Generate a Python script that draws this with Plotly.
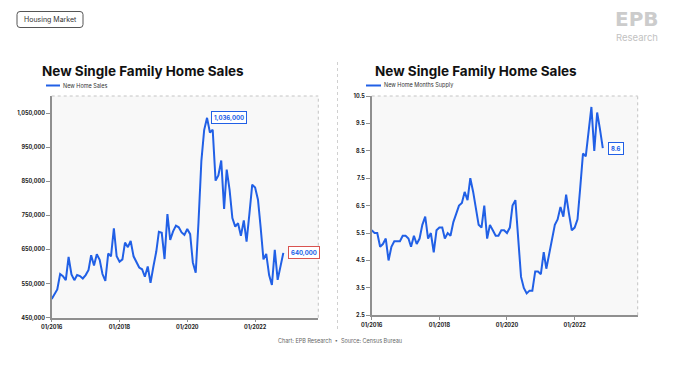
import plotly.graph_objects as go
import pandas as pd

# ---------------- data ----------------
months = pd.date_range("2016-01-01", periods=83, freq="MS")

new_home_sales = [
    505000, 520000, 533000, 578000, 572000, 560000, 628000, 577000, 560000, 575000, 572000, 565000,
    575000, 590000, 633000, 603000, 636000, 620000, 578000, 558000, 638000, 630000, 712000, 630000,
    614000, 621000, 670000, 657000, 675000, 630000, 612000, 597000, 592000, 570000, 600000, 552000,
    600000, 644000, 702000, 699000, 622000, 754000, 678000, 703000, 720000, 715000, 700000, 693000,
    710000, 695000, 612000, 582000, 730000, 910000, 1000000, 1036000, 993000, 1001000, 852000, 867000,
    911000, 769000, 884000, 825000, 742000, 717000, 727000, 690000, 735000, 673000, 756000, 840000,
    832000, 796000, 717000, 621000, 637000, 575000, 546000, 649000, 561000, 600000, 640000,
]

months_supply = [
    5.6, 5.5, 5.5, 5.0, 5.1, 5.3, 4.5, 5.0, 5.2, 5.2, 5.2, 5.4,
    5.4, 5.3, 5.0, 5.4, 5.1, 5.3, 5.8, 6.1, 5.3, 5.5, 4.8, 5.6,
    5.7, 5.7, 5.3, 5.5, 5.4, 5.9, 6.2, 6.5, 6.6, 7.0, 6.7, 7.5,
    7.0, 6.4, 5.8, 5.7, 6.5, 5.3, 5.8, 5.6, 5.4, 5.4, 5.6, 5.6,
    5.5, 5.7, 6.5, 6.7, 5.3, 3.9, 3.5, 3.3, 3.4, 3.4, 4.1, 4.1,
    4.0, 4.8, 4.2, 4.7, 5.3, 5.8, 6.0, 6.45, 6.1, 6.9, 6.2, 5.6,
    5.7, 6.0, 7.1, 8.4, 8.3, 9.3, 10.1, 8.5, 9.9, 9.3, 8.6,
]

x_tick_vals = ["2016-01-01", "2018-01-01", "2020-01-01", "2022-01-01"]
x_tick_text = ["01/2016", "01/2018", "01/2020", "01/2022"]
sales_ticks = [450000, 550000, 650000, 750000, 850000, 950000, 1050000]
supply_ticks = [2.5, 3.5, 4.5, 5.5, 6.5, 7.5, 8.5, 9.5, 10.5]

title_text = "New Single Family Home Sales"
sales_name = "New Home Sales"
supply_name = "New Home Months Supply"

# ---------------- styling ----------------
W, H = 679, 383
OFF = 8  # page body margin offset
BLUE = "#2160e6"
RED = "#d9534f"
AXIS = "#8f8f8f"
FONT = "Inter"


def px(x):
    return (x - OFF) / W


def py(y):
    return 1 - (y - OFF) / H


fig = go.Figure()
fig.add_trace(go.Scatter(x=months, y=new_home_sales, mode="lines", name=sales_name,
                         line=dict(color=BLUE, width=2), xaxis="x", yaxis="y", showlegend=False))
fig.add_trace(go.Scatter(x=months, y=months_supply, mode="lines", name=supply_name,
                         line=dict(color=BLUE, width=2), xaxis="x2", yaxis="y2", showlegend=False))

tickfont = dict(family=FONT, size=5.5, color="#222", weight="bold")
common_x = dict(type="date", range=["2016-01-01", "2023-11-13"], tickvals=x_tick_vals, ticktext=x_tick_text,
                ticks="outside", ticklen=3, tickcolor=AXIS, showline=True, linecolor=AXIS, linewidth=1.5,
                showgrid=False, zeroline=False, tickfont=tickfont, automargin=False)
common_y = dict(ticks="outside", ticklen=4, tickcolor=AXIS, showline=True, linecolor=AXIS, linewidth=1.5,
                showgrid=False, zeroline=False, tickfont=tickfont, automargin=False)

L_x0, L_x1, L_y0, L_y1 = 51.7, 318.3, 96, 317.7
R_x0, R_x1, R_y0, R_y1 = 371.7, 637.7, 96, 315.3

fig.update_layout(
    template="none",
    width=W, height=H, margin=dict(l=0, r=0, t=0, b=0, pad=0), autosize=False,
    paper_bgcolor="white", plot_bgcolor="#f8f8f8",
    font=dict(family=FONT),
    xaxis=dict(domain=[px(L_x0), px(L_x1)], anchor="y", **common_x),
    yaxis=dict(domain=[py(L_y1), py(L_y0)], anchor="x", range=[450000, 1100000],
               tickvals=sales_ticks, tickformat=",", **common_y),
    xaxis2=dict(domain=[px(R_x0), px(R_x1)], anchor="y2", **common_x),
    yaxis2=dict(domain=[py(R_y1), py(R_y0)], anchor="x2", range=[2.5, 10.5],
                tickvals=supply_ticks, tickformat=".1f", **common_y),
)

shapes = []
# dotted borders top/right of plot areas
for xr, yr in (("x domain", "y domain"), ("x2 domain", "y2 domain")):
    shapes.append(dict(type="line", xref=xr, yref=yr, x0=0, x1=1, y0=1, y1=1,
                       line=dict(color="#c4c4c4", width=1, dash="dot")))
    shapes.append(dict(type="line", xref=xr, yref=yr, x0=1, x1=1, y0=0, y1=1,
                       line=dict(color="#c4c4c4", width=1, dash="dot")))
# separator
shapes.append(dict(type="line", xref="paper", yref="paper", x0=px(337.5), x1=px(337.5), y0=py(62), y1=py(330),
                   line=dict(color="#d0d0d0", width=1, dash="dot")))
# legend lines
shapes.append(dict(type="line", xref="paper", yref="paper", x0=px(46), x1=px(60), y0=py(85.5), y1=py(85.5),
                   line=dict(color=BLUE, width=2)))
shapes.append(dict(type="line", xref="paper", yref="paper", x0=px(366), x1=px(381), y0=py(85.5), y1=py(85.5),
                   line=dict(color=BLUE, width=2)))
# header box rounded
x0, x1, y0, y1, r = 17, 83, 11.5, 27.5, 3
path = (f"M {px(x0 + r)},{py(y0)} L {px(x1 - r)},{py(y0)} Q {px(x1)},{py(y0)} {px(x1)},{py(y0 + r)} "
        f"L {px(x1)},{py(y1 - r)} Q {px(x1)},{py(y1)} {px(x1 - r)},{py(y1)} "
        f"L {px(x0 + r)},{py(y1)} Q {px(x0)},{py(y1)} {px(x0)},{py(y1 - r)} "
        f"L {px(x0)},{py(y0 + r)} Q {px(x0)},{py(y0)} {px(x0 + r)},{py(y0)} Z")
shapes.append(dict(type="path", xref="paper", yref="paper", path=path, line=dict(color="#555", width=1)))
fig.update_layout(shapes=shapes)

ann = []
# header
ann.append(dict(xref="paper", yref="paper", x=px(50), y=py(19.5), text="Housing Market", showarrow=False,
                font=dict(family=FONT, size=7, color="#333"), xanchor="center", yanchor="middle"))
# logo
ann.append(dict(xref="paper", yref="paper", x=px(637), y=py(19.5), text="<b>EPB</b>", showarrow=False,
                font=dict(family="DejaVu Sans", size=20, color="#cccccc"), xanchor="center", yanchor="middle"))
ann.append(dict(xref="paper", yref="paper", x=px(637), y=py(37.5), text="Research", showarrow=False,
                font=dict(family=FONT, size=9.5, color="#c2c2c2"), xanchor="center", yanchor="middle"))
# titles
ann.append(dict(xref="paper", yref="paper", x=px(40), y=py(71), text=f"<b>{title_text}</b>", showarrow=False,
                font=dict(family=FONT, size=13.5, color="#111"), xanchor="left", yanchor="middle"))
ann.append(dict(xref="paper", yref="paper", x=px(373), y=py(71), text=f"<b>{title_text}</b>", showarrow=False,
                font=dict(family=FONT, size=13.5, color="#111"), xanchor="left", yanchor="middle"))
# legends
ann.append(dict(xref="paper", yref="paper", x=px(61), y=py(85.5), text=sales_name, showarrow=False,
                font=dict(family=FONT, size=5.5, color="#333"), xanchor="left", yanchor="middle"))
ann.append(dict(xref="paper", yref="paper", x=px(382), y=py(85.5), text=supply_name, showarrow=False,
                font=dict(family=FONT, size=5.5, color="#333"), xanchor="left", yanchor="middle"))
# value callouts
peak_i = new_home_sales.index(max(new_home_sales))
ann.append(dict(xref="x", yref="y", x=months[peak_i], y=new_home_sales[peak_i], text=f"<b>{new_home_sales[peak_i]:,}</b>",
                showarrow=False, xanchor="left", yanchor="middle", xshift=4, bgcolor="white",
                bordercolor=BLUE, borderwidth=1, borderpad=2, font=dict(family=FONT, size=6, color=BLUE)))
ann.append(dict(xref="x", yref="y", x=months[-1], y=new_home_sales[-1], text=f"<b>{new_home_sales[-1]:,}</b>",
                showarrow=False, xanchor="left", yanchor="middle", xshift=5, bgcolor="white",
                bordercolor=RED, borderwidth=1, borderpad=2, font=dict(family=FONT, size=6, color=BLUE)))
ann.append(dict(xref="x2", yref="y2", x=months[-1], y=months_supply[-1], text=f"<b>{months_supply[-1]}</b>",
                showarrow=False, xanchor="left", yanchor="middle", xshift=5, bgcolor="white",
                bordercolor=BLUE, borderwidth=1, borderpad=2, font=dict(family=FONT, size=6, color=BLUE)))
# footer
ann.append(dict(xref="paper", yref="paper", x=px(340), y=py(341), text="Chart: EPB Research  •  Source: Census Bureau",
                showarrow=False, font=dict(family=FONT, size=5.5, color="#666"), xanchor="center", yanchor="middle"))
fig.update_layout(annotations=ann)

fig.write_html("out.html")
